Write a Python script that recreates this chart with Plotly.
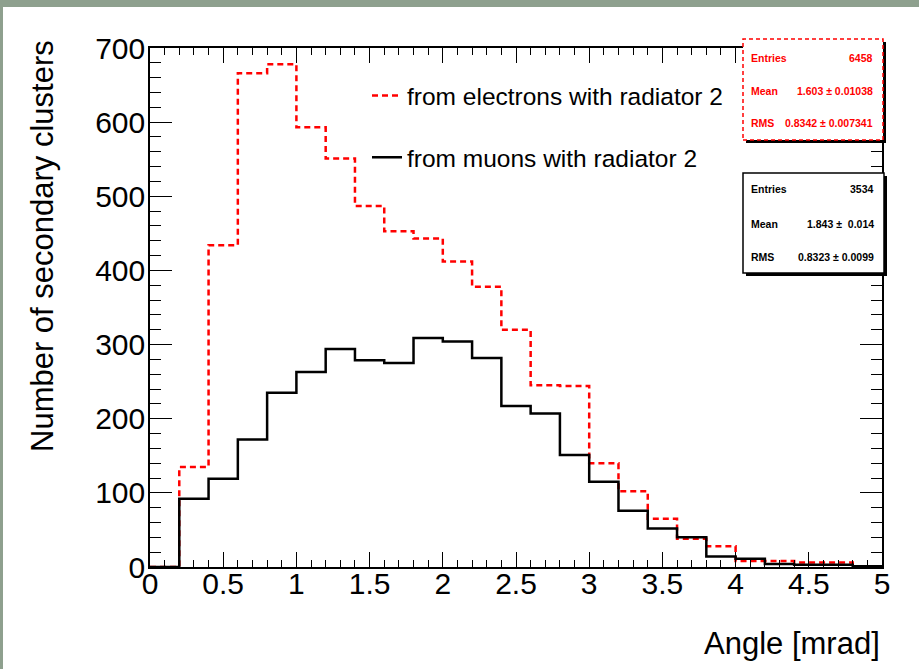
import plotly.graph_objects as go

# ---------------- data ----------------
bin_edges = [0.0, 0.2, 0.4, 0.6, 0.8, 1.0, 1.2, 1.4, 1.6, 1.8, 2.0, 2.2, 2.4,
             2.6, 2.8, 3.0, 3.2, 3.4, 3.6, 3.8, 4.0, 4.2, 4.4, 4.6, 4.8, 5.0]
electrons = [0, 135, 434, 666, 678, 593, 551, 487, 453, 443, 412, 378, 320,
             245, 244, 140, 102, 65, 38, 28, 8, 8, 6, 6, 0]
muons = [0, 92, 119, 172, 235, 263, 294, 279, 275, 309, 304, 282, 217,
         207, 151, 115, 76, 52, 40, 14, 11, 4, 3, 3, 1]
electron_label = "from electrons with radiator 2"
muon_label = "from muons with radiator 2"
electron_stats = [("Entries", "6458"), ("Mean", "1.603 \u00b1 0.01038"),
                  ("RMS", "0.8342 \u00b1 0.007341")]
muon_stats = [("Entries", "3534"), ("Mean", "1.843 \u00b1  0.014"),
              ("RMS", "0.8323 \u00b1 0.0099")]
x_ticks = [0, 0.5, 1, 1.5, 2, 2.5, 3, 3.5, 4, 4.5, 5]
x_ticklabels = ["0", "0.5", "1", "1.5", "2", "2.5", "3", "3.5", "4", "4.5", "5"]
y_ticks = [0, 100, 200, 300, 400, 500, 600, 700]

# ---------------- layout geometry ----------------
W, H = 919, 669
L, R, T, B = 150, 37, 48, 102
PW, PH = W - L - R, H - T - B
FONT = "Liberation Sans, Arial, Helvetica, sans-serif"


def px2x(px):
    return (px - L) / PW


def px2y(py):
    return (H - B - py) / PH


fig = go.Figure()

fig.add_trace(go.Scatter(
    x=bin_edges, y=electrons + [electrons[-1]], mode="lines", line_shape="hv",
    line=dict(color="#ff0000", width=2.5, dash="6px,4px"),
    name=electron_label, legendgroup="e"))
fig.add_trace(go.Scatter(
    x=bin_edges, y=muons + [muons[-1]], mode="lines", line_shape="hv",
    line=dict(color="#000000", width=2.5),
    name=muon_label, legendgroup="m"))

axis_common = dict(
    showgrid=False, zeroline=False, showline=True, linecolor="black",
    linewidth=1.5, mirror="ticks", ticks="inside", tickcolor="black",
    tickwidth=1.2, tickfont=dict(family=FONT, size=30, color="black"),
)
fig.update_xaxes(range=[0, 5], tickvals=x_ticks, ticktext=x_ticklabels,
                 ticklen=15, ticklabelstandoff=-11,
                 minor=dict(dtick=0.1, ticks="inside", ticklen=7,
                            tickcolor="black", tickwidth=1.2),
                 **axis_common)
fig.update_yaxes(range=[0, 700], tickvals=y_ticks, ticklen=22,
                 ticklabelstandoff=-3,
                 minor=dict(dtick=20, ticks="inside", ticklen=11,
                            tickcolor="black", tickwidth=1.2),
                 **axis_common)

shapes = []
# green-grey page border (top and left)
shapes.append(dict(type="rect", xref="paper", yref="paper",
                   x0=px2x(0), x1=px2x(W), y0=px2y(7), y1=px2y(0),
                   fillcolor="#8ea08e", line=dict(width=0), layer="above"))
shapes.append(dict(type="rect", xref="paper", yref="paper",
                   x0=px2x(0), x1=px2x(3), y0=px2y(H), y1=px2y(0),
                   fillcolor="#8ea08e", line=dict(width=0), layer="above"))

annotations = []


def stat_box(x0, y0, x1, y1, color, dashed, rows, row_ys):
    # shadow
    shapes.append(dict(type="rect", xref="paper", yref="paper",
                       x0=px2x(x0 + 3), x1=px2x(x1 + 3),
                       y0=px2y(y1 + 3), y1=px2y(y0 + 3),
                       fillcolor="black", line=dict(width=0), layer="above"))
    shapes.append(dict(type="rect", xref="paper", yref="paper",
                       x0=px2x(x0), x1=px2x(x1), y0=px2y(y1), y1=px2y(y0),
                       fillcolor="white",
                       line=dict(color=color, width=1.5,
                                 dash="4px,3px" if dashed else "solid"),
                       layer="above"))
    for (lab, val), yy in zip(rows, row_ys):
        annotations.append(dict(xref="paper", yref="paper", x=px2x(x0 + 6),
                                y=px2y(yy), text="<b>%s</b>" % lab,
                                xanchor="left", yanchor="middle",
                                showarrow=False,
                                font=dict(family=FONT, size=10.5, color=color)))
        annotations.append(dict(xref="paper", yref="paper", x=px2x(x1 - 8),
                                y=px2y(yy), text="<b>%s</b>" % val,
                                xanchor="right", yanchor="middle",
                                showarrow=False,
                                font=dict(family=FONT, size=10.5, color=color)))


stat_box(743, 39, 883, 140, "#ff0000", True, electron_stats, [58, 91, 123])
stat_box(743, 173, 884, 273, "#000000", False, muon_stats, [189, 224, 257])

# axis titles (ROOT style: right / top aligned)
annotations.append(dict(xref="paper", yref="paper", x=px2x(882), y=px2y(643),
                        text="Angle [mrad]", xanchor="right", yanchor="middle",
                        showarrow=False,
                        font=dict(family=FONT, size=31, color="black")))
annotations.append(dict(xref="paper", yref="paper", x=px2x(42), y=px2y(246),
                        text="Number of secondary clusters", textangle=-90,
                        xanchor="center", yanchor="middle", showarrow=False,
                        font=dict(family=FONT, size=31, color="black")))

fig.update_layout(
    width=W, height=H,
    margin=dict(l=L, r=R, t=T, b=B, pad=0),
    paper_bgcolor="white", plot_bgcolor="white",
    showlegend=True,
    legend=dict(x=px2x(367), y=px2y(73), xanchor="left", yanchor="top",
                bgcolor="rgba(0,0,0,0)", borderwidth=0,
                font=dict(family=FONT, size=24.5, color="black"),
                itemwidth=30, traceorder="grouped", tracegroupgap=27),
    shapes=shapes, annotations=annotations,
)

fig.write_html("out.html")
